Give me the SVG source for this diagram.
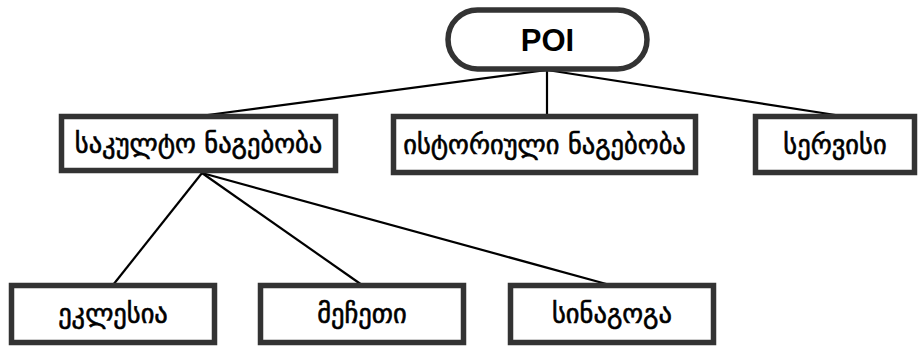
<svg xmlns="http://www.w3.org/2000/svg" width="919" height="347" viewBox="0 0 919 347">
<style>
.box{fill:#fff;stroke:#333;stroke-width:5.5}
.lbl{font-family:"DejaVu Sans",sans-serif;font-size:26.5px;fill:#000;stroke:#000;stroke-width:0.6;text-anchor:middle;dominant-baseline:central}
.poi{font-family:"Liberation Sans",Arial,sans-serif;font-weight:bold;font-size:31px;fill:#000;text-anchor:middle;dominant-baseline:central}
.edge{stroke:#000;stroke-width:2.2;fill:none}
</style>
<rect width="919" height="347" fill="#fff"/>
<g id="connectors">
<line class="edge" x1="547" y1="70" x2="200" y2="116"/>
<line class="edge" x1="547" y1="70" x2="547" y2="116"/>
<line class="edge" x1="547" y1="70" x2="842" y2="116"/>
<line class="edge" x1="202" y1="173" x2="113" y2="285"/>
<line class="edge" x1="202" y1="173" x2="362" y2="285"/>
<line class="edge" x1="202" y1="173" x2="610" y2="285"/>
</g>
<g id="poi">
<rect class="box" x="448" y="10" width="199" height="59" rx="29.5"/>
<text class="poi" x="547.5" y="40">POI</text>
</g>
<g id="sakulto">
<rect class="box" x="61.5" y="116.5" width="274" height="54"/>
<text class="lbl" x="198.5" y="143">საკულტო ნაგებობა</text>
</g>
<g id="istoriuli">
<rect class="box" x="393.5" y="116.5" width="302" height="56"/>
<text class="lbl" x="544.5" y="144">ისტორიული ნაგებობა</text>
</g>
<g id="servisi">
<rect class="box" x="755.5" y="116.5" width="159" height="56"/>
<text class="lbl" x="835" y="144">სერვისი</text>
</g>
<g id="eklesia">
<rect class="box" x="11.5" y="285.5" width="203" height="57"/>
<text class="lbl" x="113" y="313.5">ეკლესია</text>
</g>
<g id="mecheti">
<rect class="box" x="260.5" y="285.5" width="203" height="57"/>
<text class="lbl" x="362" y="313.5">მეჩეთი</text>
</g>
<g id="sinagoga">
<rect class="box" x="510.5" y="285.5" width="203" height="57"/>
<text class="lbl" x="612" y="313.5">სინაგოგა</text>
</g>
</svg>
